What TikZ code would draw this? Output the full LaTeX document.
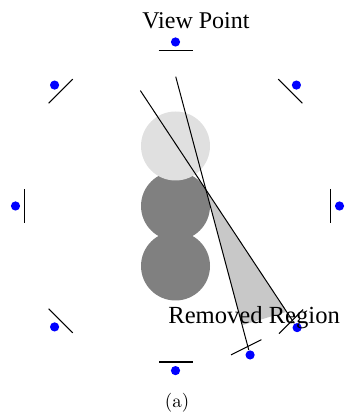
\documentclass[tikz,border=0pt]{standalone}
\usepackage{fontspec}
\newfontfamily\labelfont{Liberation Serif}
\usetikzlibrary{calc}
\definecolor{lightball}{RGB}{224,224,224}
\definecolor{darkball}{RGB}{128,128,128}
\definecolor{removed}{RGB}{200,200,200}

\begin{document}
\begin{tikzpicture}[x=10pt,y=10pt,line width=0.5pt]
                        \useasboundingbox (-8.775,-10.45) rectangle (8.475,10.3);
                        % Balls
                        \fill[darkball] (0,0) circle (1.725);
                        \fill[darkball] (0,-3) circle (1.725);
                        \fill[lightball] (0,3) circle (1.725);
                        \coordinate (X) at (28:1.725);

                        % Cameras
                        \foreach \a/\r [count=\i] in {90/8.2,135/8.55,180/8.0,-135/8.55,-90/8.23,-45/8.6,0/8.2,45/8.55,-63.4/8.33}{
                            \node[circle, fill=blue, inner sep=0pt, minimum size=4.6pt] (cam\i) at (\a:\r) {};
                            \coordinate (s\i) at (\a:\r-0.43);
                            \draw ($(s\i)+(\a+90:0.85)$) -- ($(s\i)+(\a-90:0.85)$);
                        }

                        % Removed region
                        \fill[removed] (X) -- ($(X)!0.82!(cam9)$) -- ($(X)!0.885!(cam6)$) -- cycle;

                        % Rays
                        \coordinate (e1) at ($(cam6)!1.72!(X)$);
                        \coordinate (e2) at ($(cam9)!1.685!(X)$);
                        \draw (cam6) -- (e1);
                        \draw (cam9) -- (e2);

                        % Labels
                        \node[anchor=base, inner sep=0pt, font=\labelfont\fontsize{12}{14}\selectfont] (vp) at (1.02,8.885) {View Point};
                        \node[anchor=base, inner sep=0pt, font=\labelfont\fontsize{12.3}{14}\selectfont] (rr) at (3.93,-5.87) {Removed Region};
                        \node[anchor=base, inner sep=0pt, font=\fontsize{9.5}{11}\selectfont] (cap) at (0.08,-10.06) {(a)};
                    \end{tikzpicture}
\end{document}
